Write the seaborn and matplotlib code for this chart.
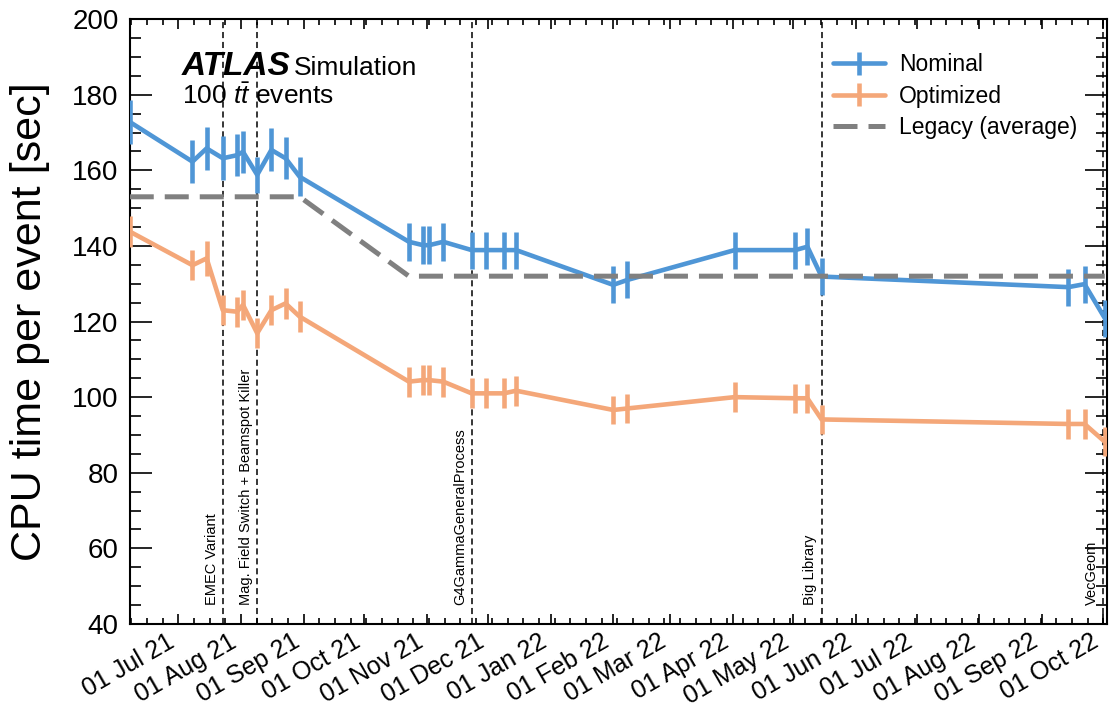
import numpy as np
import pandas as pd
import matplotlib
matplotlib.use("Agg")
import matplotlib.pyplot as plt
import matplotlib.dates as mdates
from matplotlib.ticker import AutoMinorLocator, MultipleLocator
import seaborn as sns

# measurement dates (shared by both configurations)
dates = pd.to_datetime([
    "2021-06-07", "2021-07-08", "2021-07-15", "2021-07-23", "2021-07-30",
    "2021-08-02", "2021-08-09", "2021-08-16", "2021-08-23", "2021-08-30",
    "2021-10-23", "2021-10-30", "2021-11-02", "2021-11-09", "2021-11-23",
    "2021-11-30", "2021-12-09", "2021-12-15", "2022-02-01", "2022-02-08",
    "2022-04-02", "2022-05-02", "2022-05-08", "2022-05-15", "2022-09-14",
    "2022-09-22", "2022-10-02",
])

nominal = [172.8, 162.3, 165.8, 163.2, 164.0, 164.9, 158.8, 165.4, 163.2, 158.3,
           141.1, 140.2, 140.2, 141.1, 138.9, 138.9, 138.9, 138.9, 129.7, 131.0,
           138.9, 138.9, 139.8, 131.9, 129.1, 129.9, 120.9]
nominal_err = [5.7, 5.7, 5.7, 5.8, 5.5, 5.5, 4.7, 5.7, 5.5, 5.1,
               5.0, 5.0, 5.0, 5.0, 4.9, 4.9, 4.9, 4.9, 4.9, 4.9,
               4.9, 4.9, 4.9, 4.9, 4.9, 4.9, 4.9]

optimized = [143.8, 134.9, 136.7, 123.0, 122.6, 124.4, 116.9, 123.0, 124.8, 121.3,
             104.1, 104.5, 104.5, 104.1, 101.0, 101.0, 101.0, 101.7, 96.6, 97.0,
             100.0, 99.7, 99.7, 94.1, 92.9, 92.9, 88.2]
optimized_err = [4.0, 4.0, 4.7, 4.0, 4.0, 4.0, 4.0, 4.0, 4.0, 4.0,
                 4.0, 4.0, 4.0, 4.0, 4.0, 4.0, 4.0, 4.0, 3.8, 3.8,
                 3.9, 3.9, 3.9, 3.9, 3.9, 3.9, 3.9]

legacy = [153] * 10 + [132] * 17

# software changes marked with vertical lines
change_dates = pd.to_datetime(["2021-07-23", "2021-08-09", "2021-11-23",
                               "2022-05-15", "2022-10-01"])
change_labels = ["EMEC Variant", "Mag. Field Switch + Beamspot Killer",
                 "G4GammaGeneralProcess", "Big Library", "VecGeom"]

blue = "#4f96d6"
orange = "#f4a779"
grey = "#808080"

sns.set_style("ticks")
plt.rcParams["font.family"] = ["Liberation Sans", "DejaVu Sans"]
plt.rcParams["mathtext.fontset"] = "custom"
plt.rcParams["mathtext.rm"] = "Liberation Sans"
plt.rcParams["mathtext.it"] = "Liberation Sans:italic"
for k in ["text.color", "axes.labelcolor", "xtick.color", "ytick.color",
          "axes.edgecolor"]:
    plt.rcParams[k] = "black"

fig = plt.figure(figsize=(11.09, 7.09), dpi=100)
ax = fig.add_axes([0.117, 0.120, 0.881, 0.853])

df = pd.DataFrame({"date": dates, "legacy": legacy})

# main series with error bars
eb_nom = ax.errorbar(dates, nominal, yerr=nominal_err, fmt="-", color=blue,
                     lw=3.3, elinewidth=3.3, capsize=0, label="Nominal", zorder=3)
eb_opt = ax.errorbar(dates, optimized, yerr=optimized_err, fmt="-", color=orange,
                     lw=3.3, elinewidth=3.3, capsize=0, label="Optimized", zorder=3)

# legacy average
sns.lineplot(data=df, x="date", y="legacy", ax=ax, color=grey, lw=3.6,
             linestyle=(0, (4.8, 2.2)), label="Legacy (average)", zorder=4,
             legend=False)
leg_line = ax.lines[-1]

for d, lab in zip(change_dates, change_labels):
    ax.axvline(d, color="black", lw=1.1, linestyle=(0, (4, 2.5)), zorder=2)
    ax.annotate(lab, xy=(d, 45), xytext=(-3, 0), textcoords="offset points",
                rotation=90, ha="right", va="bottom", fontsize=10.5)

ax.set_xlim(pd.Timestamp("2021-06-07"), pd.Timestamp("2022-10-03"))
ax.set_ylim(40, 200)

ax.xaxis.set_major_locator(mdates.MonthLocator())
ax.xaxis.set_major_formatter(mdates.DateFormatter("%d %b %y"))
ax.xaxis.set_minor_locator(AutoMinorLocator(4))
ax.yaxis.set_major_locator(MultipleLocator(20))
ax.yaxis.set_minor_locator(MultipleLocator(5))

for s in ax.spines.values():
    s.set_linewidth(1.5)
ax.tick_params(axis="both", which="both", direction="in", top=True, right=True,
               width=1.2)
ax.tick_params(axis="y", which="major", length=16, labelsize=20, pad=8)
ax.tick_params(axis="y", which="minor", length=8)
ax.tick_params(axis="x", which="major", length=7, labelsize=18, pad=4)
ax.tick_params(axis="x", which="minor", length=4)
plt.setp(ax.get_xticklabels(), rotation=30, ha="right")

ax.set_xlabel("")
ax.set_ylabel("CPU time per event [sec]", fontsize=31)
ax.yaxis.set_label_coords(-0.082, 0.5)

atlas = ax.text(0.053, 0.907, "ATLAS", transform=ax.transAxes, fontsize=24,
                fontweight="bold", fontstyle="italic", va="baseline")
fig.canvas.draw()
bb = atlas.get_window_extent().transformed(ax.transAxes.inverted())
ax.text(bb.x1 + 0.004, 0.907, "Simulation", transform=ax.transAxes,
        fontsize=19, va="baseline")
ax.text(0.053, 0.86, r"100 $t\bar{t}$ events", transform=ax.transAxes, fontsize=19)

ax.legend(handles=[eb_nom, eb_opt, leg_line],
          labels=["Nominal", "Optimized", "Legacy (average)"],
          loc="upper left", bbox_to_anchor=(0.699, 0.978), frameon=False,
          fontsize=16.5, handlelength=2.25, labelspacing=0.38, handletextpad=0.6)

fig.savefig("out.png", dpi=100)
